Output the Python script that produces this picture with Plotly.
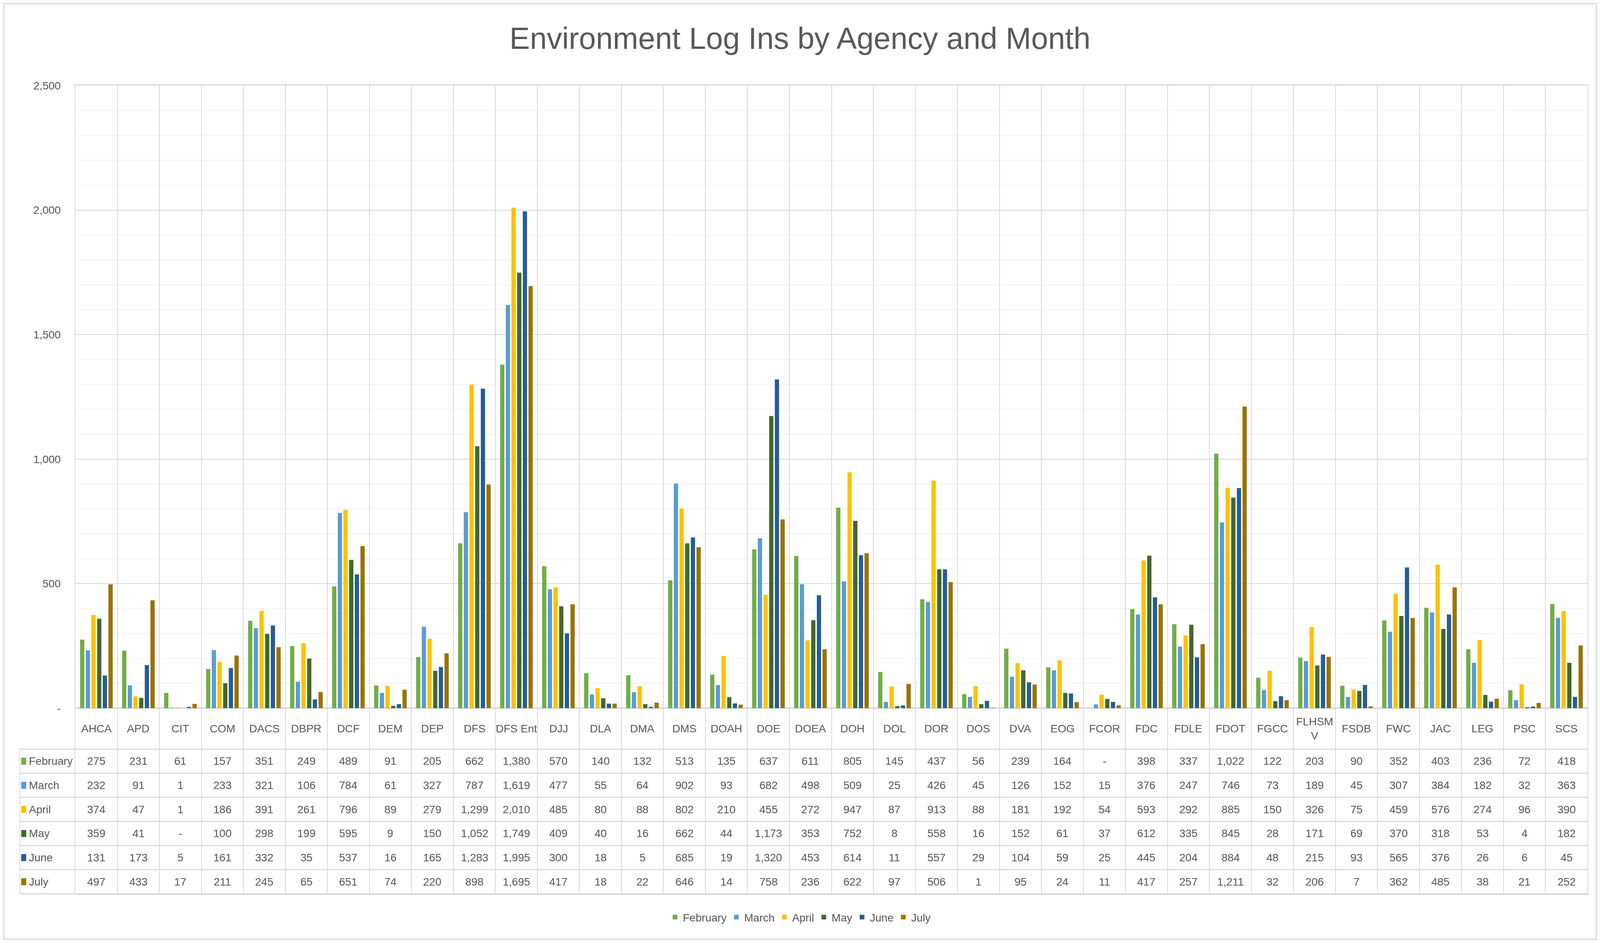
import plotly.graph_objects as go

# agencies along the x axis / data table columns
agencies = ["AHCA", "APD", "CIT", "COM", "DACS", "DBPR", "DCF", "DEM", "DEP", "DFS",
            "DFS Ent", "DJJ", "DLA", "DMA", "DMS", "DOAH", "DOE", "DOEA", "DOH", "DOL",
            "DOR", "DOS", "DVA", "EOG", "FCOR", "FDC", "FDLE", "FDOT", "FGCC", "FLHSMV",
            "FSDB", "FWC", "JAC", "LEG", "PSC", "SCS"]
months = ["February", "March", "April", "May", "June", "July"]

february = [275, 231, 61, 157, 351, 249, 489, 91, 205, 662, 1380, 570, 140, 132, 513, 135, 637, 611,
            805, 145, 437, 56, 239, 164, 0, 398, 337, 1022, 122, 203, 90, 352, 403, 236, 72, 418]
march = [232, 91, 1, 233, 321, 106, 784, 61, 327, 787, 1619, 477, 55, 64, 902, 93, 682, 498,
         509, 25, 426, 45, 126, 152, 15, 376, 247, 746, 73, 189, 45, 307, 384, 182, 32, 363]
april = [374, 47, 1, 186, 391, 261, 796, 89, 279, 1299, 2010, 485, 80, 88, 802, 210, 455, 272,
         947, 87, 913, 88, 181, 192, 54, 593, 292, 885, 150, 326, 75, 459, 576, 274, 96, 390]
may = [359, 41, 0, 100, 298, 199, 595, 9, 150, 1052, 1749, 409, 40, 16, 662, 44, 1173, 353,
       752, 8, 558, 16, 152, 61, 37, 612, 335, 845, 28, 171, 69, 370, 318, 53, 4, 182]
june = [131, 173, 5, 161, 332, 35, 537, 16, 165, 1283, 1995, 300, 18, 5, 685, 19, 1320, 453,
        614, 11, 557, 29, 104, 59, 25, 445, 204, 884, 48, 215, 93, 565, 376, 26, 6, 45]
july = [497, 433, 17, 211, 245, 65, 651, 74, 220, 898, 1695, 417, 18, 22, 646, 14, 758, 236,
        622, 97, 506, 1, 95, 24, 11, 417, 257, 1211, 32, 206, 7, 362, 485, 38, 21, 252]
series = [february, march, april, may, june, july]
colors = ["#70AD47", "#5B9BD5", "#FFC000", "#43682B", "#255E91", "#997300"]

y_ticks = [0, 500, 1000, 1500, 2000, 2500]
y_minor = [v for v in range(100, 2500, 100) if v % 500]

# the layout is measured on the 6380x2413 original, but the browser only
# gives a 4096 wide viewport (with the default 8px body margin), so map into it
REF_W, REF_H = 6380, 2413
VIEW_W, VIEW_H = 4096, 2413
PAD = 8
W, H = VIEW_W - 2 * PAD, VIEW_H - 2 * PAD
def sx(x): return x * VIEW_W / REF_W - PAD
def sy(y): return y * VIEW_H / REF_H - PAD

L, R, T, B = sx(300), sx(6330), sy(219), sy(2287)   # plot area incl. the data table
ZERO = sy(1812)                                      # value axis zero line
HEAD = sy(1917)                                      # top of first table row
TABLE_L = sx(79)
ROW_H = (B - HEAD) / len(months)
TEXT = "#595959"
LINE = "#D9D9D9"
FONT = "Liberation Sans, Arial, sans-serif"
FS = 28

def px_x(x): return (x - L) / (R - L)
def px_y(y): return (B - y) / (B - T)
def fmt(v): return f"{v:,}" if v else "-"

y_top = y_ticks[-1]
y_bottom = -y_top * (B - ZERO) / (ZERO - T)

fig = go.Figure()
for name, vals, c in zip(months, series, colors):
    fig.add_trace(go.Bar(x=agencies, y=vals, name=name, marker_color=c, marker_line_width=0))

annotations, shapes = [], []
# header row with the agency names
for a in agencies:
    annotations.append(dict(x=a, xref="x", y=px_y((ZERO + HEAD) / 2), yref="paper",
                            text=a.replace("FLHSMV", "FLHSM<br>V"), showarrow=False,
                            xanchor="center", yanchor="middle", font=dict(size=FS, color=TEXT)))
# table rows
for i, (name, vals, c) in enumerate(zip(months, series, colors)):
    cy = HEAD + (i + 0.5) * ROW_H
    annotations.append(dict(x=px_x(sx(112)), xref="paper", y=px_y(cy), yref="paper", text=name,
                            showarrow=False, xanchor="left", yanchor="middle",
                            font=dict(size=FS, color=TEXT)))
    shapes.append(dict(type="rect", xref="paper", yref="paper", x0=px_x(sx(84)), x1=px_x(sx(104)),
                       y0=px_y(cy + 9), y1=px_y(cy - 9), fillcolor=c, line_width=0))
    for a, v in zip(agencies, vals):
        annotations.append(dict(x=a, xref="x", y=px_y(cy), yref="paper", text=fmt(v),
                                showarrow=False, xanchor="center", yanchor="middle",
                                font=dict(size=FS, color=TEXT)))
for k in range(len(months) + 1):
    y = px_y(HEAD + k * ROW_H)
    shapes.append(dict(type="line", xref="paper", yref="paper", x0=px_x(TABLE_L), x1=1,
                       y0=y, y1=y, line=dict(color=LINE, width=3)))
shapes.append(dict(type="line", xref="paper", yref="paper", x0=px_x(TABLE_L), x1=px_x(TABLE_L),
                   y0=px_y(HEAD), y1=0, line=dict(color=LINE, width=2)))
# chart border
shapes.append(dict(type="rect", xref="paper", yref="paper", x0=px_x(1.5), x1=px_x(W - 1.5),
                   y0=px_y(H - 1.5), y1=px_y(1.5), line=dict(color=LINE, width=3)))

fig.update_layout(
    width=W, height=H,
    margin=dict(l=L, r=W - R, t=T, b=H - B, pad=0, autoexpand=False),
    paper_bgcolor="white", plot_bgcolor="white",
    font=dict(family=FONT, size=FS, color=TEXT),
    title=dict(text="Environment Log Ins by Agency and Month", x=0.5, xanchor="center",
               xref="container", y=1 - sy(98) / H, yref="container", yanchor="middle",
               font=dict(size=78, color=TEXT)),
    barmode="group", bargap=0.19, bargroupgap=0.25,
    showlegend=True,
    legend=dict(orientation="h", xref="container", x=0.5, xanchor="center",
                yref="container", y=1 - sy(2347) / H, yanchor="middle",
                font=dict(size=FS, color=TEXT), itemwidth=30, bgcolor="rgba(0,0,0,0)"),
    xaxis=dict(type="category", tickson="boundaries", showgrid=True, gridcolor=LINE, gridwidth=2,
               showticklabels=False, ticks="", showline=True, linecolor=LINE, linewidth=3,
               mirror=True, zeroline=False),
    yaxis=dict(range=[y_bottom, y_top], tickmode="array", tickvals=y_ticks,
               ticktext=[fmt(v) for v in y_ticks], showgrid=True, gridcolor=LINE, gridwidth=2,
               zeroline=True, zerolinecolor=LINE, zerolinewidth=4,
               showline=True, linecolor=LINE, linewidth=2, mirror=True, ticks="",
               ticklabelstandoff=30, tickfont=dict(size=FS, color=TEXT),
               minor=dict(tickmode="array", tickvals=y_minor, showgrid=True,
                          gridcolor="#F2F2F2", gridwidth=2, ticks="")),
    annotations=annotations, shapes=shapes,
)

fig.write_html("out.html")
